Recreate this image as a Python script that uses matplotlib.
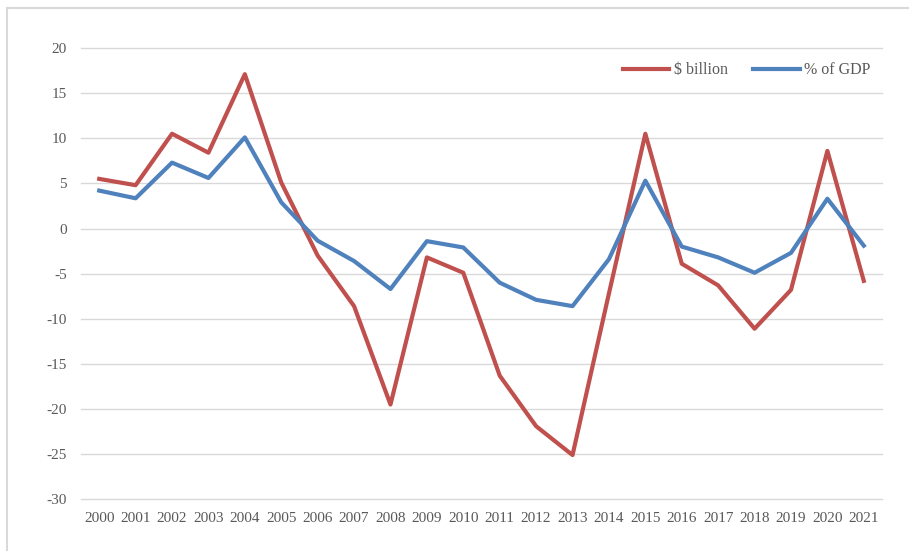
import matplotlib.pyplot as plt
from matplotlib.lines import Line2D

# Dados
anos = [str(a) for a in range(2000, 2022)]
bilhoes = [5.5, 4.8, 10.5, 8.4, 17.1, 5.1, -3.0, -8.6, -19.5, -3.2, -4.9,
           -16.3, -21.9, -25.1, -7.2, 10.5, -3.9, -6.3, -11.1, -6.8, 8.6, -5.8]
pct_pib = [4.2, 3.35, 7.3, 5.6, 10.1, 2.9, -1.35, -3.6, -6.7, -1.4, -2.1,
           -6.0, -7.9, -8.6, -3.4, 5.3, -2.0, -3.2, -4.9, -2.7, 3.3, -1.9]
rotulos_y = [-30, -25, -20, -15, -10, -5, 0, 5, 10, 15, 20]

plt.rcParams['font.family'] = ['Liberation Serif', 'DejaVu Serif']

fig = plt.figure(figsize=(9.09, 5.51), dpi=100)
ax = fig.add_axes([81 / 909, 1 - 499.3 / 551, 801 / 909, 451.3 / 551])

x = list(range(len(anos)))
ax.plot(x, bilhoes, color='#C0504D', linewidth=3, label='$ billion', zorder=3)
ax.plot(x, pct_pib, color='#4F81BD', linewidth=3, label='% of GDP', zorder=3)

ax.set_xlim(-0.5, len(anos) - 0.5)
ax.set_ylim(-30, 20)
ax.set_xticks(x)
ax.set_xticklabels(anos)
ax.set_yticks(rotulos_y)
ax.set_yticklabels([str(v) for v in rotulos_y])
ax.tick_params(axis='both', length=0, labelsize=11, colors='#595959')
ax.tick_params(axis='y', pad=10)
ax.tick_params(axis='x', pad=9)
ax.grid(axis='y', color='#D9D9D9', linewidth=1)
for linha in ax.get_ygridlines():
    linha.set_clip_on(False)
ax.set_axisbelow(True)
for lado in ax.spines.values():
    lado.set_visible(False)

leg = ax.legend(loc='center right', bbox_to_anchor=(0.986, 0.951), ncol=2,
                frameon=False, fontsize=11.5, handlelength=2.9,
                handletextpad=0.3, columnspacing=1.6, borderaxespad=0,
                borderpad=0)
for t in leg.get_texts():
    t.set_color('#595959')

# moldura cinza do gráfico
fig.add_artist(Line2D([7 / 909, 7 / 909], [0, 1 - 8 / 551], transform=fig.transFigure,
                      color='#D9D9D9', linewidth=1.5))
fig.add_artist(Line2D([7 / 909, 1], [1 - 8 / 551, 1 - 8 / 551], transform=fig.transFigure,
                      color='#D9D9D9', linewidth=1.5))

fig.savefig('out.png', dpi=100)
